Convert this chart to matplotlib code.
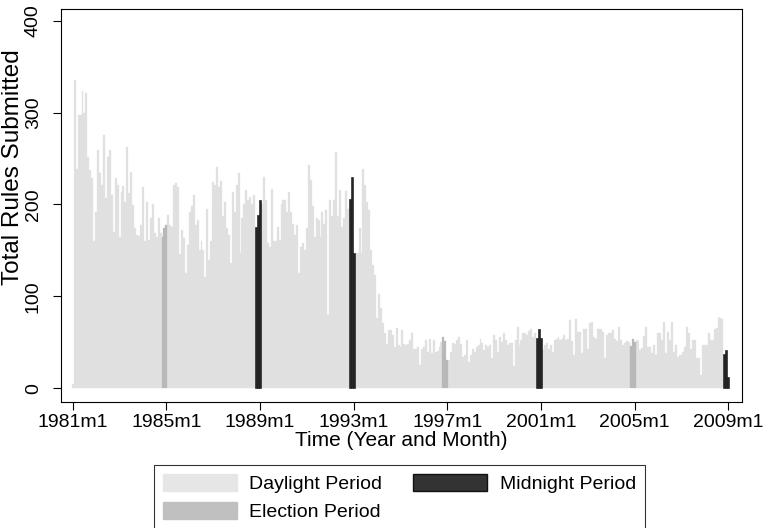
import numpy as np
import matplotlib.pyplot as plt
from matplotlib.patches import Patch

plt.rcParams['font.family'] = ['Liberation Sans', 'DejaVu Sans']

# Total rules submitted per month, 1981m1 - 2009m1, split by period
daylight_1 = [5, 335, 239, 297, 297, 323, 300, 321, 252, 238, 229, 160, 192, 259, 234, 221,
              276, 207, 252, 259, 210, 170, 229, 221, 165, 214, 220, 203, 263, 212, 235, 199,
              174, 167, 166, 178, 219, 160, 203, 161, 185, 201, 169, 165, 185, 169]
election_1 = [165, 174, 178]
daylight_2 = [189, 178, 176, 221, 223, 219, 146, 172, 163, 125, 156, 192, 198, 210, 178, 183,
              150, 160, 150, 121, 195, 140, 160, 225, 221, 241, 219, 226, 188, 203, 174, 167,
              136, 214, 192, 221, 234, 147, 185, 201, 216, 205, 208, 200, 210]
midnight_1 = [175, 189, 205]
daylight_3 = [201, 230, 205, 158, 154, 217, 160, 160, 175, 161, 201, 205, 205, 192, 214, 192,
              179, 167, 178, 125, 154, 158, 151, 174, 243, 227, 198, 165, 185, 183, 165, 192,
              179, 194, 80, 205, 187, 205, 257, 188, 216, 175, 185, 215, 195]
midnight_2 = [206, 230, 147]
daylight_4 = [147, 147, 174, 147, 239, 221, 203, 194, 151, 134, 123, 76, 103, 87, 71, 60,
              48, 63, 63, 58, 45, 66, 47, 45, 63, 48, 47, 48, 52, 60, 43, 43,
              45, 25, 43, 45, 52, 39, 54, 38, 52, 40, 41, 45, 50]
election_2 = [56, 51, 31]
daylight_5 = [31, 40, 49, 48, 52, 56, 48, 34, 36, 53, 29, 36, 43, 40, 45, 47,
              54, 49, 42, 47, 45, 47, 33, 58, 53, 40, 56, 50, 60, 53, 47, 49,
              49, 24, 53, 67, 47, 53, 60, 60, 58, 62, 65, 56, 60]
midnight_3 = [55, 64, 55]
daylight_6 = [43, 47, 49, 43, 47, 40, 52, 54, 56, 52, 54, 58, 52, 54, 74, 51,
              36, 75, 61, 61, 38, 64, 64, 43, 71, 72, 56, 54, 64, 65, 64, 61,
              33, 58, 60, 60, 63, 54, 51, 67, 53, 47, 49, 51, 50]
election_3 = [46, 54, 50]
daylight_7 = [53, 51, 42, 44, 57, 67, 45, 45, 38, 47, 36, 60, 60, 53, 72, 38,
              61, 53, 72, 40, 47, 34, 36, 36, 40, 45, 67, 60, 43, 53, 53, 33,
              33, 15, 47, 47, 47, 60, 53, 53, 65, 66, 78, 76, 75]
midnight_4 = [37, 42, 12]

tick_labels = ['1981m1', '1985m1', '1989m1', '1993m1', '1997m1', '2001m1', '2005m1', '2009m1']

segments = [
    (daylight_1, 'Daylight'), (election_1, 'Election'),
    (daylight_2, 'Daylight'), (midnight_1, 'Midnight'),
    (daylight_3, 'Daylight'), (midnight_2, 'Midnight'),
    (daylight_4, 'Daylight'), (election_2, 'Election'),
    (daylight_5, 'Daylight'), (midnight_3, 'Midnight'),
    (daylight_6, 'Daylight'), (election_3, 'Election'),
    (daylight_7, 'Daylight'), (midnight_4, 'Midnight'),
]

values = np.concatenate([np.array(v, dtype=float) for v, _ in segments])
kinds = np.concatenate([[k] * len(v) for v, k in segments])
months = np.arange(len(values))

colors = {'Daylight': '#e0e0e0', 'Election': '#b8b8b8', 'Midnight': '#262626'}

fig = plt.figure(figsize=(7.64, 5.28), dpi=100)
ax = fig.add_axes([0.0795, 0.2392, 0.8921, 0.7432])

for k in ['Daylight', 'Election', 'Midnight']:
    m = kinds == k
    ax.bar(months[m], values[m], width=1.0, color=colors[k],
           edgecolor='#111111' if k == 'Midnight' else colors[k],
           linewidth=0.4 if k == 'Midnight' else 0.2)

ax.set_xlim(-6.15, 343.2)
ax.set_ylim(-14.6, 412.4)

ax.set_xticks(np.arange(0, len(values), 48))
ax.set_xticklabels(tick_labels)
ax.set_yticks([0, 100, 200, 300, 400])
ax.set_yticklabels(['0', '100', '200', '300', '400'], rotation=90, va='center')
ax.tick_params(axis='both', direction='out', length=6, width=0.8, labelsize=14)
ax.tick_params(axis='x', pad=3)
ax.tick_params(axis='y', pad=7.5)

for s in ax.spines.values():
    s.set_linewidth(0.8)

ax.set_xlabel('Time (Year and Month)', fontsize=15, labelpad=0)
ax.set_ylabel('Total Rules Submitted', fontsize=17.5)
ax.yaxis.set_label_coords(-0.054, 0.598)

handles = [Patch(facecolor='#e6e6e6', edgecolor='#e6e6e6', label='Daylight Period'),
           Patch(facecolor='#c0c0c0', edgecolor='#c0c0c0', label='Election Period'),
           Patch(facecolor='#333333', edgecolor='#111111', label='Midnight Period')]
leg = fig.legend(handles=handles, ncol=2, loc='upper left',
                 bbox_to_anchor=(154 / 764, 1 - 465 / 528), fontsize=14,
                 frameon=True, fancybox=False, handlelength=3.8, handleheight=1.0,
                 handletextpad=0.65, columnspacing=1.6, labelspacing=0.45,
                 borderpad=0.45, borderaxespad=0)
leg.get_frame().set_edgecolor('black')
leg.get_frame().set_linewidth(0.8)

plt.savefig('out.png', dpi=100)
